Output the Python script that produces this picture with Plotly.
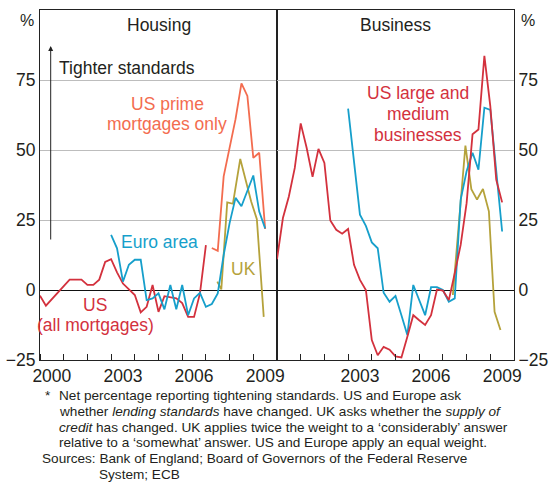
import plotly.graph_objects as go

# ---------------- data (decimal years, per cent) ----------------
us_all_dates = [2000.00, 2000.25, 2001.25, 2001.50, 2001.75, 2002.00, 2002.25, 2002.50,
                2002.75, 2003.00, 2003.25, 2003.50, 2003.75, 2004.00, 2004.25, 2004.50,
                2004.75, 2005.00, 2005.25, 2005.50, 2005.75, 2006.00, 2006.25, 2006.50,
                2006.75, 2007.00]
us_all_vals = [-2, -5.6, 3.7, 3.7, 3.7, 1.8, 1.8, 3.7,
               10, 11, 6.3, 2.3, 0.3, -1.8, -8, -6,
               1.8, -7.8, -2.2, -2.6, -3, -4.7, -9.6, -9.6,
               -1.2, 16]

us_prime_dates = [2007.25, 2007.50, 2007.75, 2008.00, 2008.25, 2008.50, 2008.75,
                  2009.00, 2009.25, 2009.50]
us_prime_vals = [15, 14, 40.6, 50.2, 61, 73.8, 69.3, 47.2, 49, 21.8]

euro_dates = [2003.00, 2003.25, 2003.50, 2003.75, 2004.00, 2004.25, 2004.50, 2004.75,
              2005.00, 2005.25, 2005.50, 2005.75, 2006.00, 2006.25, 2006.50, 2006.75,
              2007.00, 2007.25, 2007.50, 2007.75, 2008.00, 2008.25, 2008.50, 2008.75,
              2009.00, 2009.25, 2009.50]
euro_house_vals = [19.7, 14.9, 3, 9, 10.8, 10.8, -3.6, -3,
                   -1.2, -6.9, 1.8, -6.9, 1.8, -9, -3, -1,
                   -6, -5, -1.2, 12.5, 23.9, 32.9, 29.9, 35.2,
                   40.9, 28, 22]
euro_bus_vals = [64.8, 46.6, 26.9, 22.9, 17, 14.9, -1, -4.2,
                 -2.1, -9, -16.1, 1.8, -3.8, -9, 1, 1,
                 0, -4.2, -3, 32.3, 42.4, 49, 43, 65.1,
                 64.3, 41.8, 20.9]

uk_house_dates = [2007.48, 2007.65, 2007.90, 2008.14, 2008.45, 2008.70, 2008.91, 2009.15, 2009.44]
uk_house_vals = [3, 0.2, 31.3, 30.8, 46.8, 38.8, 31.6, 25.3, -9.6]

uk_bus_dates = [2007.42, 2007.95, 2008.20, 2008.44, 2008.69, 2008.94, 2009.18, 2009.43]
uk_bus_vals = [-1.8, 51.6, 36, 32.3, 36.1, 28.1, -7.8, -14.3]

us_bus_dates = [2000.00, 2000.25, 2000.50, 2000.75, 2001.00, 2001.25, 2001.50, 2001.75,
                2002.00, 2002.25, 2002.50, 2002.75, 2003.00, 2003.25, 2003.50, 2003.75,
                2004.00, 2004.25, 2004.50, 2004.75, 2005.00, 2005.25, 2005.50, 2005.75,
                2006.00, 2006.25, 2006.50, 2006.75, 2007.00, 2007.25, 2007.50, 2007.75,
                2008.00, 2008.25, 2008.50, 2008.75, 2009.00, 2009.25, 2009.50]
us_bus_vals = [11, 25.7, 33.4, 43.6, 59.5, 50.8, 40.4, 50.4,
               45.4, 24.8, 21.5, 20.1, 21.8, 9, 3.6, 0,
               -17.9, -23.3, -20.3, -21.3, -23.7, -24.1, -16.7, -9,
               -10.8, -12.5, -9, 0.2, -0.2, -3.6, 6, 16.1,
               31, 55.6, 57.3, 83.6, 65.7, 39.4, 31.3]

year_ticks = list(range(2000, 2011))
left_labels = ["2000", "2003", "2006", "2009"]
right_labels = ["2003", "2006", "2009"]
y_ticks = [-25, 0, 25, 50, 75]

# ---------------- style ----------------
RED = "#D3313D"
SALMON = "#F36C4F"
BLUE = "#169FCB"
OLIVE = "#B5A23B"
TXT = "#231F20"
GRID = "#BDBDBD"
FONT = "Arial, Liberation Sans, sans-serif"
FS = 17.5
W, H = 550, 482
ML, MR, MT, MB = 40, 36, 10, 122
PW, PH = W - ML - MR, H - MT - MB


def px(xp):
    return (xp - ML) / PW


def py(yp):
    return (H - MB - yp) / PH


fig = go.Figure()


def line(x, y, color, ax):
    fig.add_trace(go.Scatter(x=x, y=y, mode="lines", line=dict(color=color, width=1.8),
                             xaxis=ax[0], yaxis=ax[1], showlegend=False, hoverinfo="skip"))


L = ("x", "y")
R = ("x2", "y2")
line(us_all_dates, us_all_vals, RED, L)
line(us_prime_dates, us_prime_vals, SALMON, L)
line(uk_house_dates, uk_house_vals, OLIVE, L)
line(euro_dates, euro_house_vals, BLUE, L)

line(uk_bus_dates, uk_bus_vals, OLIVE, R)
line(euro_dates, euro_bus_vals, BLUE, R)
line(us_bus_dates, us_bus_vals, RED, R)

xcommon = dict(range=[2000, 2010], showgrid=False, zeroline=False, showline=True,
               linecolor="#222", linewidth=1, mirror=True, ticks="",
               tickfont=dict(size=FS, color=TXT, family=FONT),
               minor=dict(tickvals=year_ticks, ticks="inside", ticklen=6,
                          tickcolor="#222", showgrid=False))
ycommon = dict(range=[-25, 100], tickvals=y_ticks, showgrid=True, gridcolor=GRID,
               gridwidth=1, zeroline=True, zerolinecolor="#111", zerolinewidth=1,
               showline=True, linecolor="#222", linewidth=1, mirror=True, ticks="",
               tickfont=dict(size=FS, color=TXT, family=FONT))

fig.update_layout(
    width=W, height=H, margin=dict(l=ML, r=MR, t=MT, b=MB, autoexpand=False),
    paper_bgcolor="white", plot_bgcolor="white",
    font=dict(family=FONT, color=TXT),
    xaxis=dict(domain=[0, 0.5], anchor="y",
               tickvals=[int(s) + 0.5 for s in left_labels], ticktext=left_labels, **xcommon),
    xaxis2=dict(domain=[0.5, 1], anchor="y2",
                tickvals=[int(s) + 0.5 for s in right_labels], ticktext=right_labels, **xcommon),
    yaxis=dict(anchor="x", side="left", **ycommon),
    yaxis2=dict(anchor="x2", side="right", **ycommon),
)


def text(t, x, y, color=TXT, size=FS, xanchor="center"):
    fig.add_annotation(text=t, x=px(x), y=py(y), xref="paper", yref="paper",
                       showarrow=False, xanchor=xanchor, yanchor="middle",
                       font=dict(size=size, color=color, family=FONT))


text("%", 27, 20, size=16)
text("%", 528, 20, size=16)
text("Housing", 158.5, 25)
text("Business", 395.5, 25)
text("Tighter standards", 57, 68, xanchor="left")
text("US prime", 167, 103.5, SALMON)
text("mortgages only", 167, 124, SALMON)
text("Euro area", 159, 242, BLUE)
text("UK", 243, 269, OLIVE)
text("US", 95, 304.5, RED)
text("(all mortgages)", 95, 325, RED)
text("US large and", 418, 93.5, RED)
text("medium", 418, 114, RED)
text("businesses", 418, 134.5, RED)

# arrow "Tighter standards"
fig.add_annotation(x=px(50.7), y=py(46), ax=0, ay=195, xref="paper", yref="paper",
                   axref="pixel", ayref="pixel", text="", showarrow=True, arrowhead=2,
                   arrowsize=1, arrowwidth=1, arrowcolor="#222")

# footnote
FN = 13.6
notes = [
    ("*", 43, 395.5),
    ("Net percentage reporting tightening standards. US and Europe ask", 57, 395.5),
    ("whether <i>lending standards</i> have changed. UK asks whether the <i>supply of</i>", 57, 411.3),
    ("<i>credit</i> has changed. UK applies twice the weight to a \u2018considerably\u2019 answer", 57, 427.1),
    ("relative to a \u2018somewhat\u2019 answer. US and Europe apply an equal weight.", 57, 442.9),
    ("Sources: Bank of England; Board of Governors of the Federal Reserve", 40, 458.7),
    ("System; ECB", 97, 474.3),
]
for t, x, y in notes:
    text(t, x, y, size=FN, xanchor="left")

fig.write_html("out.html", config={"displayModeBar": False},
               post_script="document.body.style.margin='0px';document.body.style.overflow='hidden';")
